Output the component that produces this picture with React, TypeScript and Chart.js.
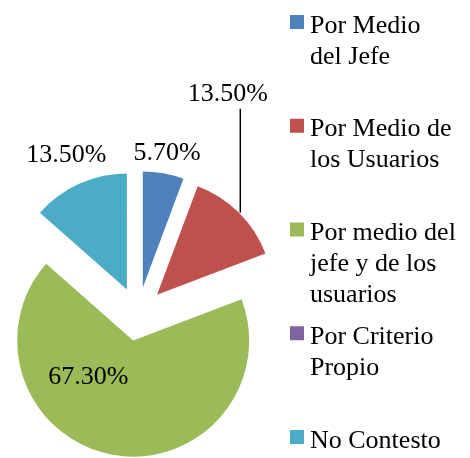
import React, { useEffect, useRef } from 'react';
import { Chart, registerables } from 'chart.js';
Chart.register(...registerables);

// ---- data ----
const categories: string[][] = [
  ['Por Medio', 'del Jefe'],
  ['Por Medio de', 'los Usuarios'],
  ['Por medio del', 'jefe y de los', 'usuarios'],
  ['Por Criterio', 'Propio'],
  ['No Contesto'],
];
const values: number[] = [5.7, 13.5, 67.3, 0, 13.5];
const colors: string[] = ['#4F81BD', '#C0504D', '#9BBB59', '#8064A2', '#4BACC6'];

// ---- styling / layout ----
const FONT = '26px "Liberation Serif", "Times New Roman", serif';
const EXPLODE = 27;
// angle: degrees clockwise from 12 o'clock (null => slice mid-angle); dist: multiple of radius
const labelPlacement: ({ angle: number | null; dist: number; leader?: boolean } | null)[] = [
  { angle: null, dist: 1.41 },
  { angle: 22.2, dist: 2.05, leader: true },
  { angle: 218.4, dist: 0.69 },
  null,
  { angle: null, dist: 1.5 },
];

const explodePlugin = {
  id: 'explode',
  beforeDatasetDraw(chart: any, args: any) {
    const ctx = chart.ctx;
    args.meta.data.forEach((arc: any) => {
      const mid = (arc.startAngle + arc.endAngle) / 2;
      ctx.save();
      ctx.translate(Math.cos(mid) * EXPLODE, Math.sin(mid) * EXPLODE);
      arc.draw(ctx);
      ctx.restore();
    });
    return false;
  },
};

const labelPlugin = {
  id: 'pieLabels',
  afterDatasetsDraw(chart: any) {
    const ctx = chart.ctx;
    const meta = chart.getDatasetMeta(0);
    ctx.save();
    ctx.font = FONT;
    ctx.fillStyle = '#000';
    ctx.strokeStyle = '#000';
    ctx.textAlign = 'center';
    ctx.textBaseline = 'middle';
    meta.data.forEach((arc: any, i: number) => {
      const p = labelPlacement[i];
      if (!p || values[i] === 0) return;
      const { x, y, startAngle, endAngle, outerRadius } = arc;
      const mid = (startAngle + endAngle) / 2;
      const a = p.angle == null ? mid : ((p.angle - 90) * Math.PI) / 180;
      const lx = x + Math.cos(a) * outerRadius * p.dist;
      const ly = y + Math.sin(a) * outerRadius * p.dist;
      ctx.fillText(values[i].toFixed(2) + '%', lx, ly);
      if (p.leader) {
        const ex = x + Math.cos(mid) * (outerRadius + EXPLODE) + 1.5;
        const ey = y + Math.sin(mid) * (outerRadius + EXPLODE);
        ctx.lineWidth = 1.5;
        ctx.beginPath();
        ctx.moveTo(ex, ey);
        ctx.lineTo(ex, ly + 15);
        ctx.stroke();
      }
    });
    ctx.restore();
  },
};

const legendPlugin = {
  id: 'sideLegend',
  afterDraw(chart: any) {
    const ctx = chart.ctx;
    ctx.save();
    ctx.font = FONT;
    ctx.textAlign = 'left';
    ctx.textBaseline = 'alphabetic';
    categories.forEach((lines, i) => {
      const top = 15 + i * 103.75;
      ctx.fillStyle = colors[i];
      ctx.fillRect(290, top, 14, 14);
      ctx.fillStyle = '#000';
      lines.forEach((ln, j) => ctx.fillText(ln, 310, top + 17.5 + j * 31));
    });
    ctx.restore();
  },
};

export default function App() {
  const ref = useRef<HTMLCanvasElement>(null);
  useEffect(() => {
    if (!ref.current) return;
    const chart = new Chart(ref.current, {
      type: 'pie',
      data: {
        labels: categories,
        datasets: [
          {
            data: values,
            backgroundColor: colors,
            borderWidth: 0,
            hoverOffset: 0,
            clip: false,
          } as any,
        ],
      },
      options: {
        animation: false,
        responsive: false,
        events: [],
        radius: 116,
        layout: { padding: { left: 8, right: 202, top: 184, bottom: 14 } },
        plugins: { legend: { display: false }, tooltip: { enabled: false } },
      } as any,
      plugins: [explodePlugin, labelPlugin, legendPlugin],
    });
    return () => chart.destroy();
  }, []);
  return (
    <div style={{ position: 'absolute', left: 0, top: 0, width: 470, height: 458, background: '#fff' }}>
      <canvas ref={ref} width={470} height={458} />
    </div>
  );
}
